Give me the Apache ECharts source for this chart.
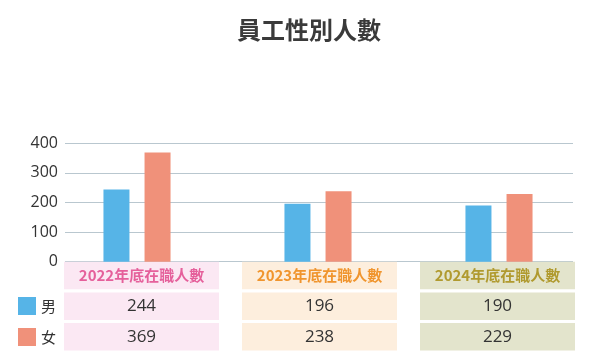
<!DOCTYPE html>
<html><head><meta charset="utf-8">
<script src="https://cdn.jsdelivr.net/npm/echarts@6/dist/echarts.min.js"></script>
<style>html,body{margin:0;padding:0;background:#fff}#c{width:591px;height:364px}</style>
</head><body><div id="c"></div>
<script>
const titleText = '員工性別人數';
const categories = ['2022年底在職人數', '2023年底在職人數', '2024年底在職人數'];
const seriesNames = ['男', '女'];
const maleValues = [244, 196, 190];
const femaleValues = [369, 238, 229];
const yMax = 400;
const yInterval = 100;

const headerColors = ['#e5609b', '#f0952e', '#b09a2f'];
const cellColors = ['#fbe8f3', '#fdeedd', '#e3e4cc'];

const rich = {};
categories.forEach((c, i) => {
  rich['h' + i] = {color: headerColors[i], backgroundColor: cellColors[i], width: 155, height: 27.5, lineHeight: 30.7,
    align: 'center', fontSize: 15, fontWeight: 'bold', fontFamily: 'Noto Sans CJK TC'};
  rich['v' + i] = {color: '#333', backgroundColor: cellColors[i], width: 155, height: 27.5, lineHeight: 30.7,
    align: 'center', fontSize: 17, fontFamily: 'Open Sans'};
});

const chart = echarts.init(document.getElementById('c'), null, {renderer: 'canvas'});
const gridTop = 143.3, gridH = 118.4;
chart.setOption({
  animation: false,
  title: {text: titleText, left: 237, top: 18, padding: 0, textStyle: {fontSize: 24, fontWeight: 'bold', color: '#3a3a3a', fontFamily: 'Noto Sans CJK TC'}},
  legend: {data: seriesNames, orient: 'vertical', left: 18, top: 297, padding: 0, itemWidth: 18, itemHeight: 18, itemGap: 13, icon: 'rect',
    textStyle: {fontSize: 15, color: '#333', fontFamily: 'Noto Sans CJK TC'}, selectedMode: false},
  grid: [
    {left: 46.5, width: 543, top: gridTop, height: gridH},
    {left: 65, width: 508, top: gridTop, height: gridH},
    {left: 52.5, width: 534, top: gridTop, height: gridH - 3.7}
  ],
  xAxis: [
    {type: 'category', gridIndex: 0, data: categories, axisLine: {show: false}, axisTick: {show: false}, axisLabel: {show: false}},
    {type: 'category', gridIndex: 1, data: categories, axisLine: {show: false}, axisTick: {show: false}, axisLabel: {show: false}},
    {type: 'category', gridIndex: 2, data: categories, axisLine: {show: false}, axisTick: {show: false},
      axisLabel: {show: true, interval: 0, margin: 2.1, rich: rich,
        formatter: (v, i) => `{h${i}|${v}}\n{v${i}|${maleValues[i]}}\n{v${i}|${femaleValues[i]}}`}}
  ],
  yAxis: [
    {type: 'value', gridIndex: 0, min: 0, max: yMax, interval: yInterval, show: false},
    {type: 'value', gridIndex: 1, min: 0, max: yMax, interval: yInterval,
      axisLine: {show: false}, axisTick: {show: false},
      axisLabel: {fontSize: 16, color: '#333', margin: 7, fontFamily: 'Open Sans'},
      splitLine: {lineStyle: {color: '#b9c7cf', width: 1}}},
    {type: 'value', gridIndex: 2, min: 0, max: 1, show: false}
  ],
  series: [
    {name: seriesNames[0], type: 'bar', xAxisIndex: 0, yAxisIndex: 0, data: maleValues, barWidth: 26, barGap: '58%',
      itemStyle: {color: '#56b4e7'}},
    {name: seriesNames[1], type: 'bar', xAxisIndex: 0, yAxisIndex: 0, data: femaleValues, barWidth: 26, barGap: '58%',
      itemStyle: {color: '#f0917a'}}
  ]
});
</script></body></html>
